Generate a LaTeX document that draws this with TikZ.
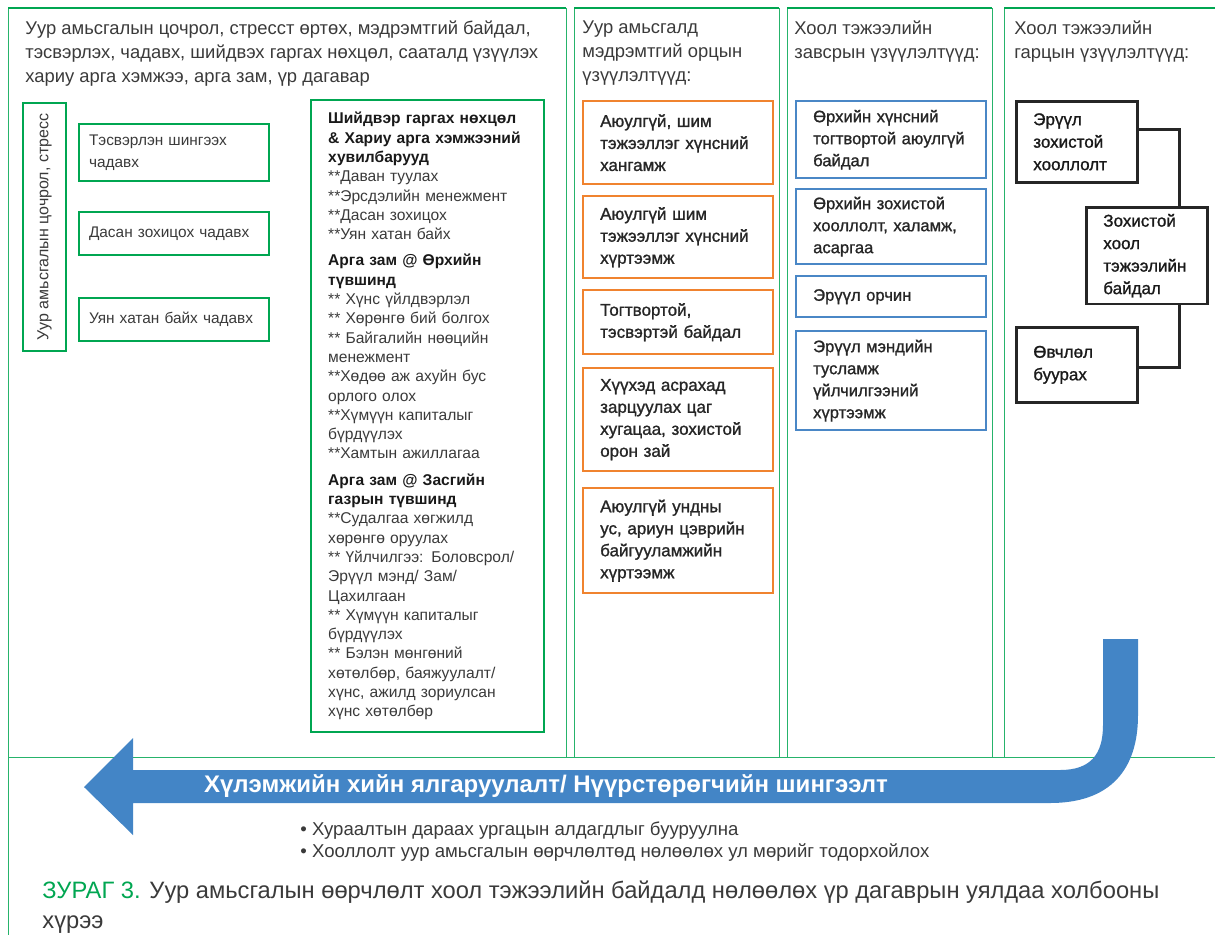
\documentclass[tikz,border=0pt]{standalone}
\usepackage{fontspec}
\setmainfont{Liberation Sans}
\newfontfamily\medfont[FakeBold=1.2]{Liberation Sans}
\definecolor{mygreen}{HTML}{00A651}
\definecolor{myorange}{HTML}{F0832F}
\definecolor{myblue}{HTML}{4A87C6}
\definecolor{arrowblue}{HTML}{4385C6}
\definecolor{mygray}{HTML}{3A3A3A}
\newcommand{\opthead}[1]{{\bfseries\color{black!90}#1}}

\begin{document}
\begin{tikzpicture}[x=0.5pt,y=-0.5pt]
\useasboundingbox (0,0) rectangle (1215,934);
% column frames
\tikzset{ColStyle/.style ={draw=mygreen!85, line width=0.5pt}}
\tikzset{ColTop/.style ={draw=mygreen, line width=1.3pt}}
\draw[ColStyle] (8,8) rectangle (566,757);
\draw[ColStyle] (574,8) rectangle (779,757);
\draw[ColStyle] (787,8) rectangle (992,757);
\draw[ColStyle] (1004,757) -- (1004,8) -- (1220,8);
\draw[ColStyle] (8,757) -- (1220,757);
\draw[ColStyle] (8,757) -- (8,940);
\draw[ColTop] (8,8) -- (566,8);
\draw[ColTop] (574,8) -- (779,8);
\draw[ColTop] (787,8) -- (992,8);
\draw[ColTop] (1004,8) -- (1220,8);
% column headers
\tikzset{HeadStyle/.style ={anchor=north west, inner sep=0pt, align=left, text=mygray, font=\fontsize{9.2}{12}\selectfont}}
\node[HeadStyle] (head1) at (25,20) {Уур амьсгалын цочрол, стресст өртөх, мэдрэмтгий байдал,\\тэсвэрлэх, чадавх, шийдвэх гаргах нөхцөл, сааталд үзүүлэх\\хариу арга хэмжээ, арга зам, үр дагавар};
\node[HeadStyle] (head2) at (582,20) {Уур амьсгалд\\мэдрэмтгий орцын\\үзүүлэлтүүд:};
\node[HeadStyle] (head3) at (794,20) {Хоол тэжээлийн\\завсрын үзүүлэлтүүд:};
\node[HeadStyle] (head4) at (1014,20) {Хоол тэжээлийн\\гарцын үзүүлэлтүүд:};
% first column
\node[draw=mygreen, line width=1pt, rotate=90, minimum width=124pt, minimum height=21.5pt, inner sep=0pt, text=mygray, font=\fontsize{8}{10}\selectfont] (stress) at (44.5,227) {Уур амьсгалын цочрол, стресс};
\tikzset{AbilityStyle/.style ={draw=mygreen, line width=1pt, anchor=north west, inner xsep=5pt, text width=85pt, align=left, text=mygray, font=\fontsize{7.7}{11}\selectfont}}
\node[AbilityStyle, minimum height=28.5pt] (tesverlen) at (78,123) {Тэсвэрлэн шингээх\\чадавх};
\node[AbilityStyle, minimum height=21.5pt] (dasan) at (78,211) {Дасан зохицох чадавх};
\node[AbilityStyle, minimum height=21.5pt] (uyan) at (78,297) {Уян хатан байх чадавх};
\node[draw=mygreen, line width=1.2pt, anchor=north west, inner xsep=8.5pt, inner ysep=6pt, text width=99.5pt, align=left, text=mygray, font=\fontsize{7.8}{9.65}\selectfont] (options) at (310,99) {\opthead{Шийдвэр гаргах нөхцөл\\\& Хариу арга хэмжээний\\хувилбарууд}\\{}**Даван туулах\\{}**Эрсдэлийн менежмент\\{}**Дасан зохицох\\{}**Уян хатан байх\\[3.5pt]
\opthead{Арга зам @ Өрхийн\\түвшинд}\\{}** Хүнс үйлдвэрлэл\\{}** Хөрөнгө бий болгох\\{}** Байгалийн нөөцийн\\менежмент\\{}**Хөдөө аж ахуйн бус\\орлого олох\\{}**Хүмүүн капиталыг\\бүрдүүлэх\\{}**Хамтын ажиллагаа\\[3.5pt]
\opthead{Арга зам @ Засгийн\\газрын түвшинд}\\{}**Судалгаа хөгжилд\\хөрөнгө оруулах\\{}** Үйлчилгээ: Боловсрол/\\Эрүүл мэнд/ Зам/\\Цахилгаан\\{}** Хүмүүн капиталыг\\бүрдүүлэх\\{}** Бэлэн мөнгөний\\хөтөлбөр, баяжуулалт/\\хүнс, ажилд зориулсан\\хүнс хөтөлбөр};
% second column
\tikzset{InputStyle/.style ={draw=myorange, line width=1.2pt, anchor=north west, inner xsep=8.5pt, text width=78pt, align=left, text=black!85, font=\medfont\fontsize{8.5}{11}\selectfont}}
\node[InputStyle, minimum height=41.5pt] (hangamj) at (582,100) {Аюулгүй, шим\\тэжээллэг хүнсний\\хангамж};
\node[InputStyle, minimum height=41pt] (hurteemj) at (582,195) {Аюулгүй шим\\тэжээллэг хүнсний\\хүртээмж};
\node[InputStyle, minimum height=32pt] (togtvortoi) at (582,289) {Тогтвортой,\\тэсвэртэй байдал};
\node[InputStyle, minimum height=51.5pt] (huuhed) at (582,367) {Хүүхэд асрахад\\зарцуулах цаг\\хугацаа, зохистой\\орон зай};
\node[InputStyle, minimum height=52.5pt] (us) at (582,487) {Аюулгүй ундны\\ус, ариун цэврийн\\байгууламжийн\\хүртээмж};
% third column
\tikzset{MidStyle/.style ={draw=myblue, line width=1.2pt, anchor=north west, inner xsep=8.5pt, text width=78pt, align=left, text=black!85, font=\medfont\fontsize{8.3}{11}\selectfont}}
\node[MidStyle, minimum height=38.5pt] (urhhuns) at (795,100) {Өрхийн хүнсний\\тогтвортой аюулгүй\\байдал};
\node[MidStyle, minimum height=37.5pt] (urhzohistoi) at (795,188) {Өрхийн зохистой\\хооллолт, халамж,\\асаргаа};
\node[MidStyle, minimum height=20.5pt] (orchin) at (795,275) {Эрүүл орчин};
\node[MidStyle, minimum height=49.5pt] (tuslamj) at (795,330) {Эрүүл мэндийн\\тусламж\\үйлчилгээний\\хүртээмж};
% fourth column
\tikzset{OutStyle/.style ={draw=black!85, line width=1.3pt, anchor=north west, inner xsep=8.5pt, text width=43.5pt, align=left, text=black!90, font=\medfont\fontsize{8.5}{11.25}\selectfont}}
\node[OutStyle, minimum height=40.5pt] (eruul) at (1015,100) {Эрүүл\\зохистой\\хооллолт};
\node[OutStyle, minimum height=47.5pt] (zohistoi) at (1085,206) {Зохистой\\хоол\\тэжээлийн\\байдал};
\node[OutStyle, minimum height=37.5pt] (ovchlol) at (1015,326) {Өвчлөл\\буурах};
\tikzset{LinkStyle/.style ={draw=black!85, line width=1.3pt}}
\draw[LinkStyle] ([yshift=6.25pt]eruul.east) -| ([xshift=16.25pt]zohistoi.north);
\draw[LinkStyle] ([xshift=16.25pt]zohistoi.south) |- ([yshift=-1.25pt]ovchlol.east);
% big arrow
\fill[arrowblue] (1103,639) -- (1138,639) -- (1138,715) .. controls (1138,770) and (1110,803) .. (1050,803) -- (133,803) -- (133,835) -- (84,787) -- (133,738) -- (133,770) -- (1060,770) .. controls (1090,770) and (1103,755) .. (1103,725) -- cycle;
\node[text=white, font=\bfseries\fontsize{12}{14}\selectfont] (flow) at (546,786) {Хүлэмжийн хийн ялгаруулалт/ Нүүрстөрөгчийн шингээлт};
% notes and caption
\tikzset{NoteStyle/.style ={anchor=west, inner sep=0pt, text=mygray, font=\fontsize{9.3}{11}\selectfont}}
\node[NoteStyle] (note1) at (300,831) {• Хураалтын дараах ургацын алдагдлыг бууруулна};
\node[NoteStyle] (note2) at (300,853) {• Хооллолт уур амьсгалын өөрчлөлтөд нөлөөлөх ул мөрийг тодорхойлох};
\node[anchor=north west, inner sep=0pt, align=left, text=mygray, font=\fontsize{11.85}{15}\selectfont] (caption) at (42,880) {{\color{mygreen}ЗУРАГ 3.} Уур амьсгалын өөрчлөлт хоол тэжээлийн байдалд нөлөөлөх үр дагаврын уялдаа холбооны\\хүрээ};
\end{tikzpicture}
\end{document}
